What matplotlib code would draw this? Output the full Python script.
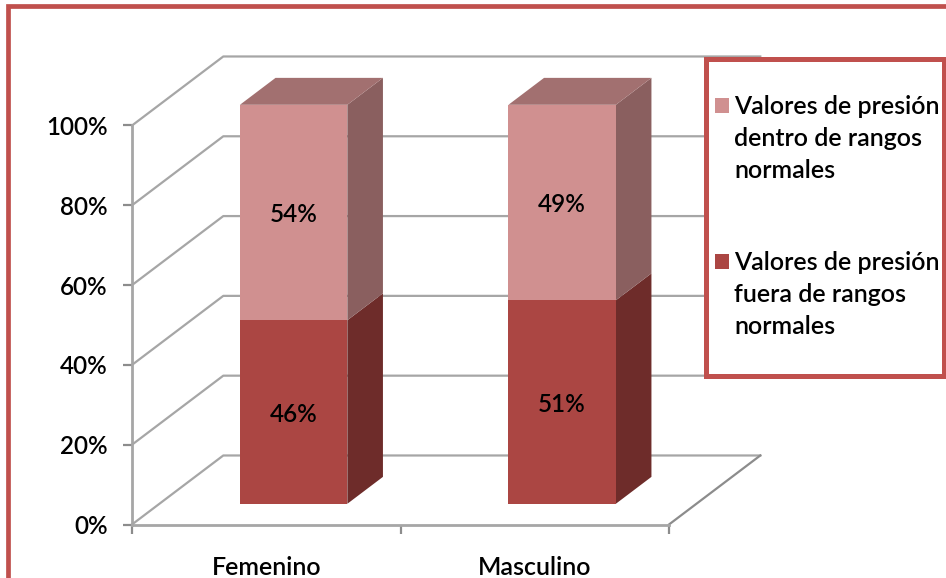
import matplotlib.pyplot as plt
from matplotlib.patches import Rectangle

plt.rcParams["font.family"] = ["Lato", "DejaVu Sans"]
plt.rcParams["font.weight"] = "semibold"

categories = ["Femenino", "Masculino"]
fuera = [46, 51]
dentro = [54, 49]
y_ticks = [0, 20, 40, 60, 80, 100]
legend_dentro = ["Valores de presión", "dentro de rangos", "normales"]
legend_fuera = ["Valores de presión", "fuera de rangos", "normales"]

W, H = 946, 578
GRID = "#a6a6a6"
BORDER = "#c0504d"
LIGHT, LIGHT_TOP, LIGHT_SIDE = "#d09090", "#a27070", "#8a5f5f"
DARK, DARK_SIDE = "#ab4643", "#6e2c2a"

# fake 3d depth of the chart box, in data units
DEPTH_X = 0.34
DEPTH_Y = 17.3
BAR_WIDTH = 0.4
NEAR = 0.30
FAR = 0.69
LABEL_DROP = 0.5

fig = plt.figure(figsize=(W / 100, H / 100), dpi=100)
ax = fig.add_axes([132 / W, 1 - 524.5 / H, 537 / W, 399 / H])
ax.set_xlim(0, 2)
ax.set_ylim(0, 100)
ax.patch.set_alpha(0)

# walls
for v in y_ticks:
    ax.plot([0, DEPTH_X, 2 + DEPTH_X], [v, v + DEPTH_Y, v + DEPTH_Y],
            color=GRID, lw=1.6, clip_on=False, zorder=1)
ax.plot([2, 2 + DEPTH_X], [0, DEPTH_Y], color="#8c8c8c", lw=1.6, clip_on=False, zorder=1)


def draw_stack(x0, low, high, front, side, top=None):
    """One box segment: front face through bar, side and top as polygons"""
    x1 = x0 + BAR_WIDTH
    dx0, dy0 = NEAR * DEPTH_X, NEAR * DEPTH_Y
    dx1, dy1 = FAR * DEPTH_X, FAR * DEPTH_Y
    ax.bar(x0 + dx0, high - low, BAR_WIDTH, bottom=low + dy0, align="edge",
           color=front, zorder=3, clip_on=False)
    ax.fill([x1 + dx0, x1 + dx1, x1 + dx1, x1 + dx0],
            [low + dy0, low + dy1, high + dy1, high + dy0],
            color=side, lw=0, zorder=2, clip_on=False)
    if top:
        ax.fill([x0 + dx0, x0 + dx1, x1 + dx1, x1 + dx0],
                [high + dy0, high + dy1, high + dy1, high + dy0],
                color=top, lw=0, zorder=2, clip_on=False)


for i, name in enumerate(categories):
    x0 = i + 0.5 - BAR_WIDTH / 2
    total = fuera[i] + dentro[i]
    draw_stack(x0, 0, fuera[i], DARK, DARK_SIDE)
    draw_stack(x0, fuera[i], total, LIGHT, LIGHT_SIDE, LIGHT_TOP)
    xc = i + 0.5 + NEAR * DEPTH_X
    ax.text(xc, fuera[i] / 2 + NEAR * DEPTH_Y - LABEL_DROP, f"{fuera[i]}%", ha="center", va="center",
            fontsize=17.5, color="black", zorder=5)
    ax.text(xc, fuera[i] + dentro[i] / 2 + NEAR * DEPTH_Y - LABEL_DROP, f"{dentro[i]}%", ha="center", va="center",
            fontsize=17.5, color="black", zorder=5)

for s in ["top", "right"]:
    ax.spines[s].set_visible(False)
for s in ["left", "bottom"]:
    ax.spines[s].set_color(GRID)
    ax.spines[s].set_linewidth(2)

ax.set_yticks(y_ticks)
ax.set_yticklabels([f"{v}%" for v in y_ticks], fontsize=17.5)
ax.tick_params(axis="y", length=6.5, width=1.6, color="#8c8c8c", pad=11)
ax.set_xticks([0, 1, 2])
ax.set_xticklabels([])
ax.set_xticks([0.5, 1.5], categories, minor=True, fontsize=18)
ax.tick_params(axis="x", which="major", length=6.5, width=1.6, color="#8c8c8c")
ax.tick_params(axis="x", which="minor", length=0, pad=23)

# outer frame and legend box sit on a pixel overlay
over = fig.add_axes([0, 0, 1, 1], zorder=10)
over.set_xlim(0, W)
over.set_ylim(H, 0)
over.axis("off")
over.plot([7.5, 7.5, W], [H, 6, 6], color=BORDER, lw=3.4, solid_joinstyle="miter")
over.add_patch(Rectangle((705.5, 58.5), 238, 317, facecolor="white", edgecolor=BORDER, lw=3.6))

for color, lines, first_y in [(LIGHT, legend_dentro, 106), (DARK, legend_fuera, 262)]:
    over.add_patch(Rectangle((715, first_y - 8), 14, 15, facecolor=color, edgecolor="none"))
    for j, line in enumerate(lines):
        over.text(734, first_y + j * 32, line, ha="left", va="center", fontsize=18, color="black")

fig.savefig("out.png", dpi=100)
